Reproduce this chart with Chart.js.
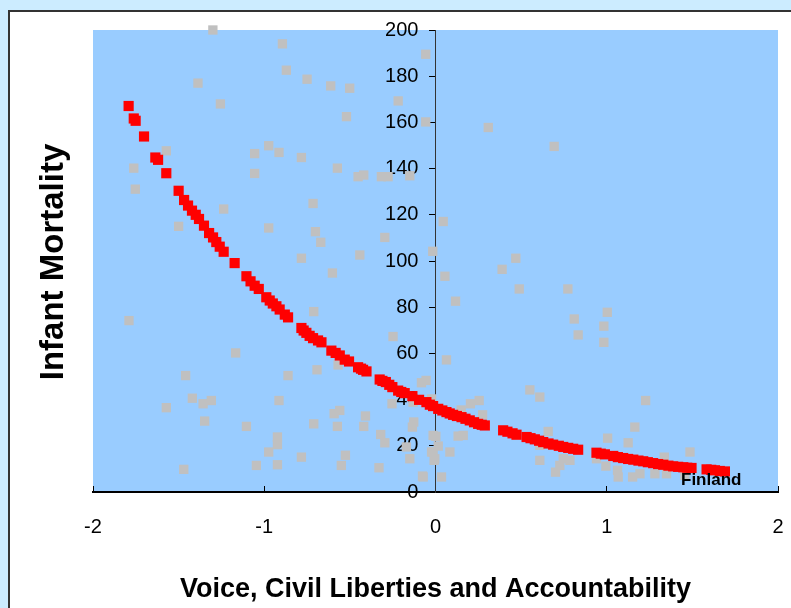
<!DOCTYPE html>
<html><head><meta charset="utf-8">
<script src="https://cdn.jsdelivr.net/npm/chart.js@4"></script>
<style>html,body{margin:0;padding:0;background:#ccecff;overflow:hidden}#wrap{width:791px;height:608px;position:relative}canvas{display:block}</style>
</head><body><div id="wrap"><canvas id="c" width="791" height="608"></canvas></div>
<script>
// ---- data ----
const grayX = [-1.30,-0.894,-1.387,-1.256,-0.871,-0.75,-0.612,-0.501,-0.52,-0.218,-0.057,-0.057,
  -1.572,-1.762,-1.753,-1.056,-0.974,-0.914,-0.783,-1.056,-0.573,-0.452,-0.419,-0.316,-0.277,-0.15,
  -1.237,-0.715,-1.50,-0.974,-0.701,-0.67,-0.296,-0.783,-0.442,-0.602,-0.016,-1.79,-0.711,-0.248,
  -1.167,-0.569,-1.459,-0.861,-0.692,-0.082,-0.055,-1.42,-1.357,-1.309,-1.572,-0.914,-0.254,-0.131,
  -1.348,-0.711,-0.592,-0.559,-0.409,-0.419,-0.573,-1.104,-0.127,-0.135,-0.923,-0.923,-0.974,-0.32,
  -0.296,-0.526,-0.783,-1.046,-0.923,-0.55,-0.33,-1.47,-0.15,-0.17,-0.076,-0.014,-0.014,-0.004,
  0.308,0.693,0.045,0.055,0.117,0.469,0.389,0.489,0.773,0.81,0.833,1.003,0.983,0.983,0.064,
  0.551,0.609,0.255,0.204,0.275,1.227,-0.023,0.002,0.162,0.132,0.658,0.016,-0.023,0.084,-0.008,
  -0.072,0.035,0.609,0.609,0.746,0.785,0.726,0.701,1.005,1.125,1.164,0.94,0.995,1.063,1.067,
  1.151,1.194,1.281,1.336,1.349,1.486,1.456,0.15];
const grayY = [200,194,177,168,182.6,178.7,175.8,174.8,162.5,169.3,189.5,160.2,
  147.7,140.2,131.1,146.5,149.9,147,144.8,137.9,140.2,136.5,137.2,136.5,136.5,136.9,
  122.5,124.9,115,114.3,112.7,108.1,110.2,101.2,102.6,94.8,104.2,74.2,78.1,67.3,
  60.2,55,50.4,50.4,52.9,47.3,48.3,40.6,38.2,39.6,36.5,39.6,38.2,38.9,
  30.7,29.5,33.9,35.3,32.9,28.4,28.4,28.4,30.3,28.1,23.8,20.5,17.3,24.9,
  21.3,15.9,15.1,11.5,11.8,11.5,10.5,9.8,14.4,19.5,6.9,24.5,17.3,14.4,
  157.8,149.6,117.1,93.4,82.6,101.2,96.4,87.9,87.9,74.9,68,77.8,71.8,64.8,57.2,
  44.2,41.1,39.6,38.2,33.4,39.6,40.3,24.1,24.5,24.2,26.2,19.9,17.3,17.3,13.7,
  6.5,6.5,20.2,13.7,14.4,13.7,11.5,8.6,23.3,21.3,28.1,14.4,11.2,9.4,6.5,
  6.5,7.9,7.9,15.1,7.9,17.3,7.2,35.5];

const redX = [-1.792,-1.762,-1.751,-1.702,-1.636,-1.62,-1.572,-1.50,-1.468,-1.445,
  -1.422,-1.40,-1.381,-1.352,-1.322,-1.299,-1.28,-1.26,-1.237,-1.173,
  -1.104,-1.08,-1.056,-1.032,-0.988,-0.968,-0.95,-0.929,-0.91,-0.88,
  -0.861,-0.783,-0.77,-0.754,-0.735,-0.715,-0.686,-0.666,-0.608,-0.583,
  -0.559,-0.53,-0.505,-0.452,-0.435,-0.423,-0.403,-0.326,-0.31,-0.29,
  -0.27,-0.252,-0.218,-0.2,-0.18,-0.135,-0.096,-0.053,-0.033,-0.014,
  0.016,0.04,0.064,0.083,0.103,0.125,0.152,0.175,0.2,0.225,
  0.249,0.27,0.288,0.395,0.42,0.45,0.473,0.532,0.555,0.58,
  0.605,0.629,0.66,0.687,0.72,0.746,0.775,0.804,0.833,0.94,
  0.965,0.989,1.038,1.065,1.096,1.125,1.155,1.185,1.213,1.24,
  1.271,1.30,1.33,1.36,1.388,1.417,1.447,1.47,1.495,1.583,
  1.61,1.632,1.66,1.69];
const redY = [167.1,161.7,160.7,153.9,144.8,143.8,138,130.4,126.4,124,
  121.8,120,118.2,115.3,112.1,110.2,108.2,106.2,104,99.1,
  93.4,91.2,89.3,87.9,84.3,82.9,81.6,80.4,79,76.8,
  75.6,71,69.9,68.9,67.6,66.6,65.6,64.8,61.2,60.2,
  59.1,57.3,56.5,54,53.4,52.9,52.2,48.7,48.1,47.6,
  46.4,45.4,43.9,43.3,42.8,41.5,39.9,38.9,37.8,37.2,
  36,35.3,34.6,34,33.4,32.9,32.4,31.7,31,30.2,
  29.5,29.1,28.8,26.7,26.1,25.4,24.8,23.8,23.3,22.8,
  22.2,21.6,21,20.5,20,19.5,19.1,18.7,18.3,17,
  16.6,16.3,15.6,15.1,14.7,14.3,14,13.6,13.3,12.9,
  12.5,12.1,11.8,11.4,11.1,10.9,10.7,10.5,10.4,9.8,
  9.6,9.4,9.1,8.9];

const xTickValues = [-2,-1,0,1,2];
const yTickValues = [0,20,40,60,80,100,120,140,160,180,200];
const xTitle = 'Voice, Civil Liberties and Accountability';
const yTitle = 'Infant Mortality';
const noteText = 'Finland';
const noteX = 1.61, noteY = 4.9;

// ---- chart ----
const FONT = "'Liberation Sans', Arial, sans-serif";
const toPts = (xs, ys) => xs.map((x, i) => ({x, y: ys[i]}));

const bgPlugin = {
  id: 'bg',
  beforeDraw(chart) {
    const ctx = chart.ctx, a = chart.chartArea;
    ctx.save();
    ctx.fillStyle = '#ccecff';
    ctx.fillRect(0, 0, chart.width, chart.height);
    ctx.fillStyle = '#ffffff';
    ctx.fillRect(9, 11, chart.width - 9, chart.height - 11);
    ctx.strokeStyle = '#333333';
    ctx.lineWidth = 2;
    ctx.beginPath();
    ctx.moveTo(9, chart.height); ctx.lineTo(9, 11); ctx.lineTo(chart.width, 11);
    ctx.stroke();
    ctx.fillStyle = '#99ccff';
    ctx.fillRect(a.left, a.top, a.right - a.left, a.bottom - a.top);
    ctx.restore();
  }
};
const textPlugin = {
  id: 'texts',
  afterDraw(chart) {
    const ctx = chart.ctx;
    ctx.save();
    ctx.fillStyle = '#000';
    ctx.font = "bold 33px " + FONT;
    ctx.textAlign = 'center';
    ctx.textBaseline = 'middle';
    ctx.translate(54, 262);
    ctx.rotate(-Math.PI / 2);
    ctx.fillText(yTitle, 0, 0);
    ctx.restore();
    ctx.save();
    ctx.fillStyle = '#000';
    ctx.font = "bold 17px " + FONT;
    ctx.textAlign = 'center';
    ctx.textBaseline = 'middle';
    ctx.fillText(noteText, chart.scales.x.getPixelForValue(noteX), chart.scales.y.getPixelForValue(noteY));
    ctx.restore();
  }
};

new Chart(document.getElementById('c'), {
  type: 'scatter',
  data: {
    datasets: [
      { label: 'gray', data: toPts(grayX, grayY), pointStyle: 'rect', pointRadius: 6.6, pointBorderWidth: 0,
        backgroundColor: '#c0c0c0', borderColor: '#c0c0c0', order: 2, clip: false },
      { label: 'fit', data: toPts(redX, redY), pointStyle: 'rect', pointRadius: 7.2, pointBorderWidth: 0,
        backgroundColor: '#ff0000', borderColor: '#ff0000', order: 1 }
    ]
  },
  options: {
    responsive: false,
    devicePixelRatio: 1,
    animation: false,
    events: [],
    layout: { padding: { left: 93, right: 13, top: 30, bottom: 0 } },
    plugins: { legend: { display: false }, tooltip: { enabled: false } },
    scales: {
      x: {
        type: 'linear', min: -2, max: 2,
        afterBuildTicks: s => { s.ticks = xTickValues.map(v => ({value: v})); },
        ticks: { font: { family: FONT, size: 20 }, color: '#000', padding: 29 },
        grid: { drawOnChartArea: false, tickLength: -6, color: '#000', lineWidth: 1 },
        border: { color: '#000', width: 2 },
        title: { display: true, text: xTitle, color: '#000', font: { family: FONT, size: 27, weight: 'bold' }, padding: { top: 0, bottom: 2 } },
        afterFit: s => { s.height = 116; s.paddingLeft = 0; s.paddingRight = 0; }
      },
      y: {
        type: 'linear', min: 0, max: 200, position: { x: 0 },
        afterBuildTicks: s => { s.ticks = yTickValues.map(v => ({value: v})); },
        ticks: { display: false },
        grid: { drawOnChartArea: false, tickLength: 6, color: '#000', lineWidth: 1 },
        border: { color: '#333', width: 1 }
      },
      yl: {
        type: 'linear', min: 0, max: 200, position: { x: -0.1 },
        afterBuildTicks: s => { s.ticks = yTickValues.map(v => ({value: v})); },
        ticks: { font: { family: FONT, size: 20 }, color: '#000' },
        grid: { display: false },
        border: { display: false }
      }
    }
  },
  plugins: [bgPlugin, textPlugin]
});
</script></body></html>
